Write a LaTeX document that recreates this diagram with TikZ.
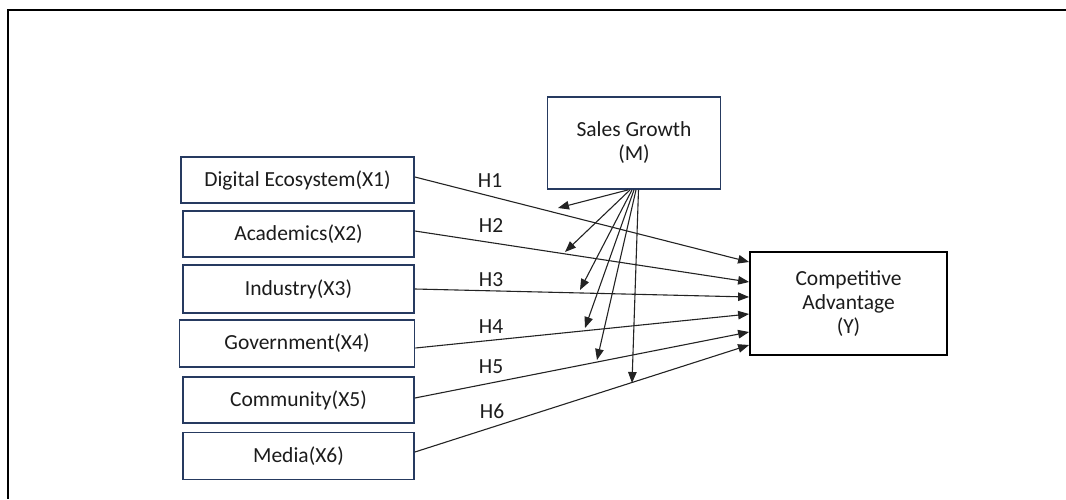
\documentclass[tikz,border=0pt]{standalone}
\usepackage{fontspec}
\setmainfont{Carlito}
\usepackage{xcolor}
\usepackage{tikz}
\usetikzlibrary{
  arrows.meta,
  positioning
}
\definecolor{NavyLine}{RGB}{38, 58, 96}
\definecolor{DarkText}{RGB}{28, 28, 28}
\definecolor{ArrowGray}{RGB}{35, 35, 35}
\tikzset{
    varbox/.style={rectangle, draw=NavyLine, line width=1.8pt, fill=white, text=DarkText,
        font=\fontsize{21.5}{24}\selectfont, align=center, inner sep=0pt},
    outbox/.style={varbox, draw=black},
    hyplabel/.style={text=DarkText, font=\fontsize{21.5}{24}\selectfont, inner sep=1pt},
    link/.style={draw=ArrowGray, line width=1.1pt, -{Triangle[length=11pt, width=8.5pt]}}
}

\begin{document}
\begin{tikzpicture}[x=1pt, y=-1pt]
            \useasboundingbox (0,0) rectangle (1066,499);
            % outer frame
            \draw[line width=2.6pt, black] (1066,10) -- (8,10) -- (8,499);

            % independent variables
            \node[varbox, minimum width=233pt, minimum height=46pt] (x1) at (297.5,180) {Digital Ecosystem(X1)};
            \node[varbox, minimum width=231pt, minimum height=46pt] (x2) at (298.5,234) {Academics(X2)};
            \node[varbox, minimum width=231pt, minimum height=48pt] (x3) at (298.5,289) {Industry(X3)};
            \node[varbox, minimum width=235pt, minimum height=47pt] (x4) at (297,343.5) {Government(X4)};
            \node[varbox, minimum width=231pt, minimum height=46pt] (x5) at (298.5,400) {Community(X5)};
            \node[varbox, minimum width=231pt, minimum height=47pt] (x6) at (298.5,456) {Media(X6)};

            % mediator and outcome
            \node[varbox, minimum width=173pt, minimum height=92pt] (m) at (634,143) {Sales Growth\\(M)};
            \node[outbox, minimum width=197pt, minimum height=103pt] (y) at (848.5,303.5) {Competitive\\Advantage\\(Y)};

            % hypotheses
            \draw[link] ([yshift=3pt]x1.east) -- ([yshift=41.5pt]y.west);
            \draw[link] ([yshift=3pt]x2.east) -- ([yshift=21.5pt]y.west);
            \draw[link] (x3.east) -- ([yshift=6.5pt]y.west);
            \draw[link] ([yshift=-4.5pt]x4.east) -- ([yshift=-10.5pt]y.west);
            \draw[link] ([yshift=2pt]x5.east) -- ([yshift=-28.5pt]y.west);
            \draw[link] ([yshift=4pt]x6.east) -- ([yshift=-41.5pt]y.west);

            \node[hyplabel] (h1) at (490,181) {H1};
            \node[hyplabel] (h2) at (491,226) {H2};
            \node[hyplabel] (h3) at (491,280) {H3};
            \node[hyplabel] (h4) at (491,327) {H4};
            \node[hyplabel] (h5) at (491,367) {H5};
            \node[hyplabel] (h6) at (492,411) {H6};

            % moderating paths
            \coordinate (m1) at (558,208);
            \coordinate (m2) at (565,252);
            \coordinate (m3) at (580,290);
            \coordinate (m4) at (585,328);
            \coordinate (m5) at (597,360);
            \coordinate (m6) at (632,383);
            \draw[link] ([xshift=-6pt]m.south) -- (m1);
            \draw[link] ([xshift=-4pt]m.south) -- (m2);
            \draw[link] ([xshift=-2pt]m.south) -- (m3);
            \draw[link] ([xshift=0pt]m.south) -- (m4);
            \draw[link] ([xshift=2pt]m.south) -- (m5);
            \draw[link] ([xshift=4.5pt]m.south) -- (m6);
        \end{tikzpicture}
\end{document}
